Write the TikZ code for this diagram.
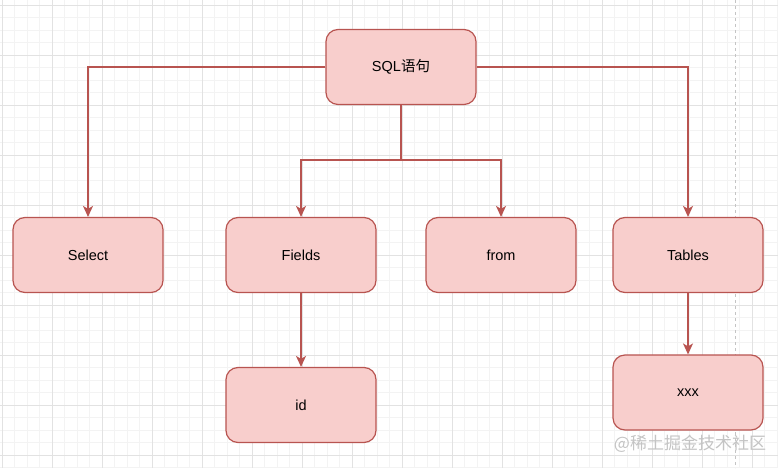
\documentclass[tikz,border=0pt]{standalone}
\usepackage{fontspec}
\setmainfont{Liberation Sans}
\newfontfamily\cjkfont{Noto Sans CJK SC}
\usetikzlibrary{arrows.meta,positioning,calc}
\definecolor{boxFill}{HTML}{F8CECC}
\definecolor{boxLine}{HTML}{B85450}
\definecolor{gridMinor}{HTML}{F3F3F3}
\definecolor{gridMajor}{HTML}{E2E2E2}
\definecolor{markGray}{HTML}{C4C4C4}

\tikzset{
  entity/.style={rectangle, rounded corners=12pt, draw=boxLine, fill=boxFill,
    line width=1.2pt, minimum width=150pt, minimum height=75pt,
    font=\fontsize{14.5}{17}\selectfont, text=black},
  link/.style={draw=boxLine, line width=1.3pt,
    -{Stealth[length=11pt,width=10pt,inset=3pt]}}
}

\begin{document}
\begin{tikzpicture}[x=1pt, y=-1pt]
    \useasboundingbox (0,0) rectangle (778,468);
    \fill[white] (0,0) rectangle (778,468);
    % background grid
    \foreach \k in {0,...,62} {\draw[gridMinor, line width=0.8pt] ({2+12.5*\k},0) -- ({2+12.5*\k},468);}
    \foreach \k in {0,...,37} {\draw[gridMinor, line width=0.8pt] (0,{5+12.5*\k}) -- (778,{5+12.5*\k});}
    \foreach \k in {0,...,15} {\draw[gridMajor, line width=0.8pt] ({2+50*\k},0) -- ({2+50*\k},468);}
    \foreach \k in {0,...,9} {\draw[gridMajor, line width=0.8pt] (0,{5+50*\k}) -- (778,{5+50*\k});}
    \draw[markGray, dashed, line width=1pt] (735,0) -- (735,468);

    \node[entity] (sql) at (401,67) {SQL{\cjkfont 语句}};
    \node[entity] (select) at (88,255) {Select};
    \node[entity] (fields) at (301,255) {Fields};
    \node[entity] (from) at (501,255) {from};
    \node[entity] (tables) at (688,255) {Tables};
    \node[entity] (id) at (301,405) {id};
    \node[entity] (xxx) at (688,392.5) {xxx};
    \coordinate (split) at (401,160);

    \draw[link] (sql.west) -| (select.north);
    \draw[link] (sql.east) -| (tables.north);
    \draw[link] (sql.south) -- (split) -| (fields.north);
    \draw[link] (split) -| (from.north);
    \draw[link] (fields) -- (id);
    \draw[link] (tables) -- (xxx);

    \node[text=markGray, font=\cjkfont\fontsize{17}{20}\selectfont] (mark) at (690,444) {@稀土掘金技术社区};
  \end{tikzpicture}
\end{document}
